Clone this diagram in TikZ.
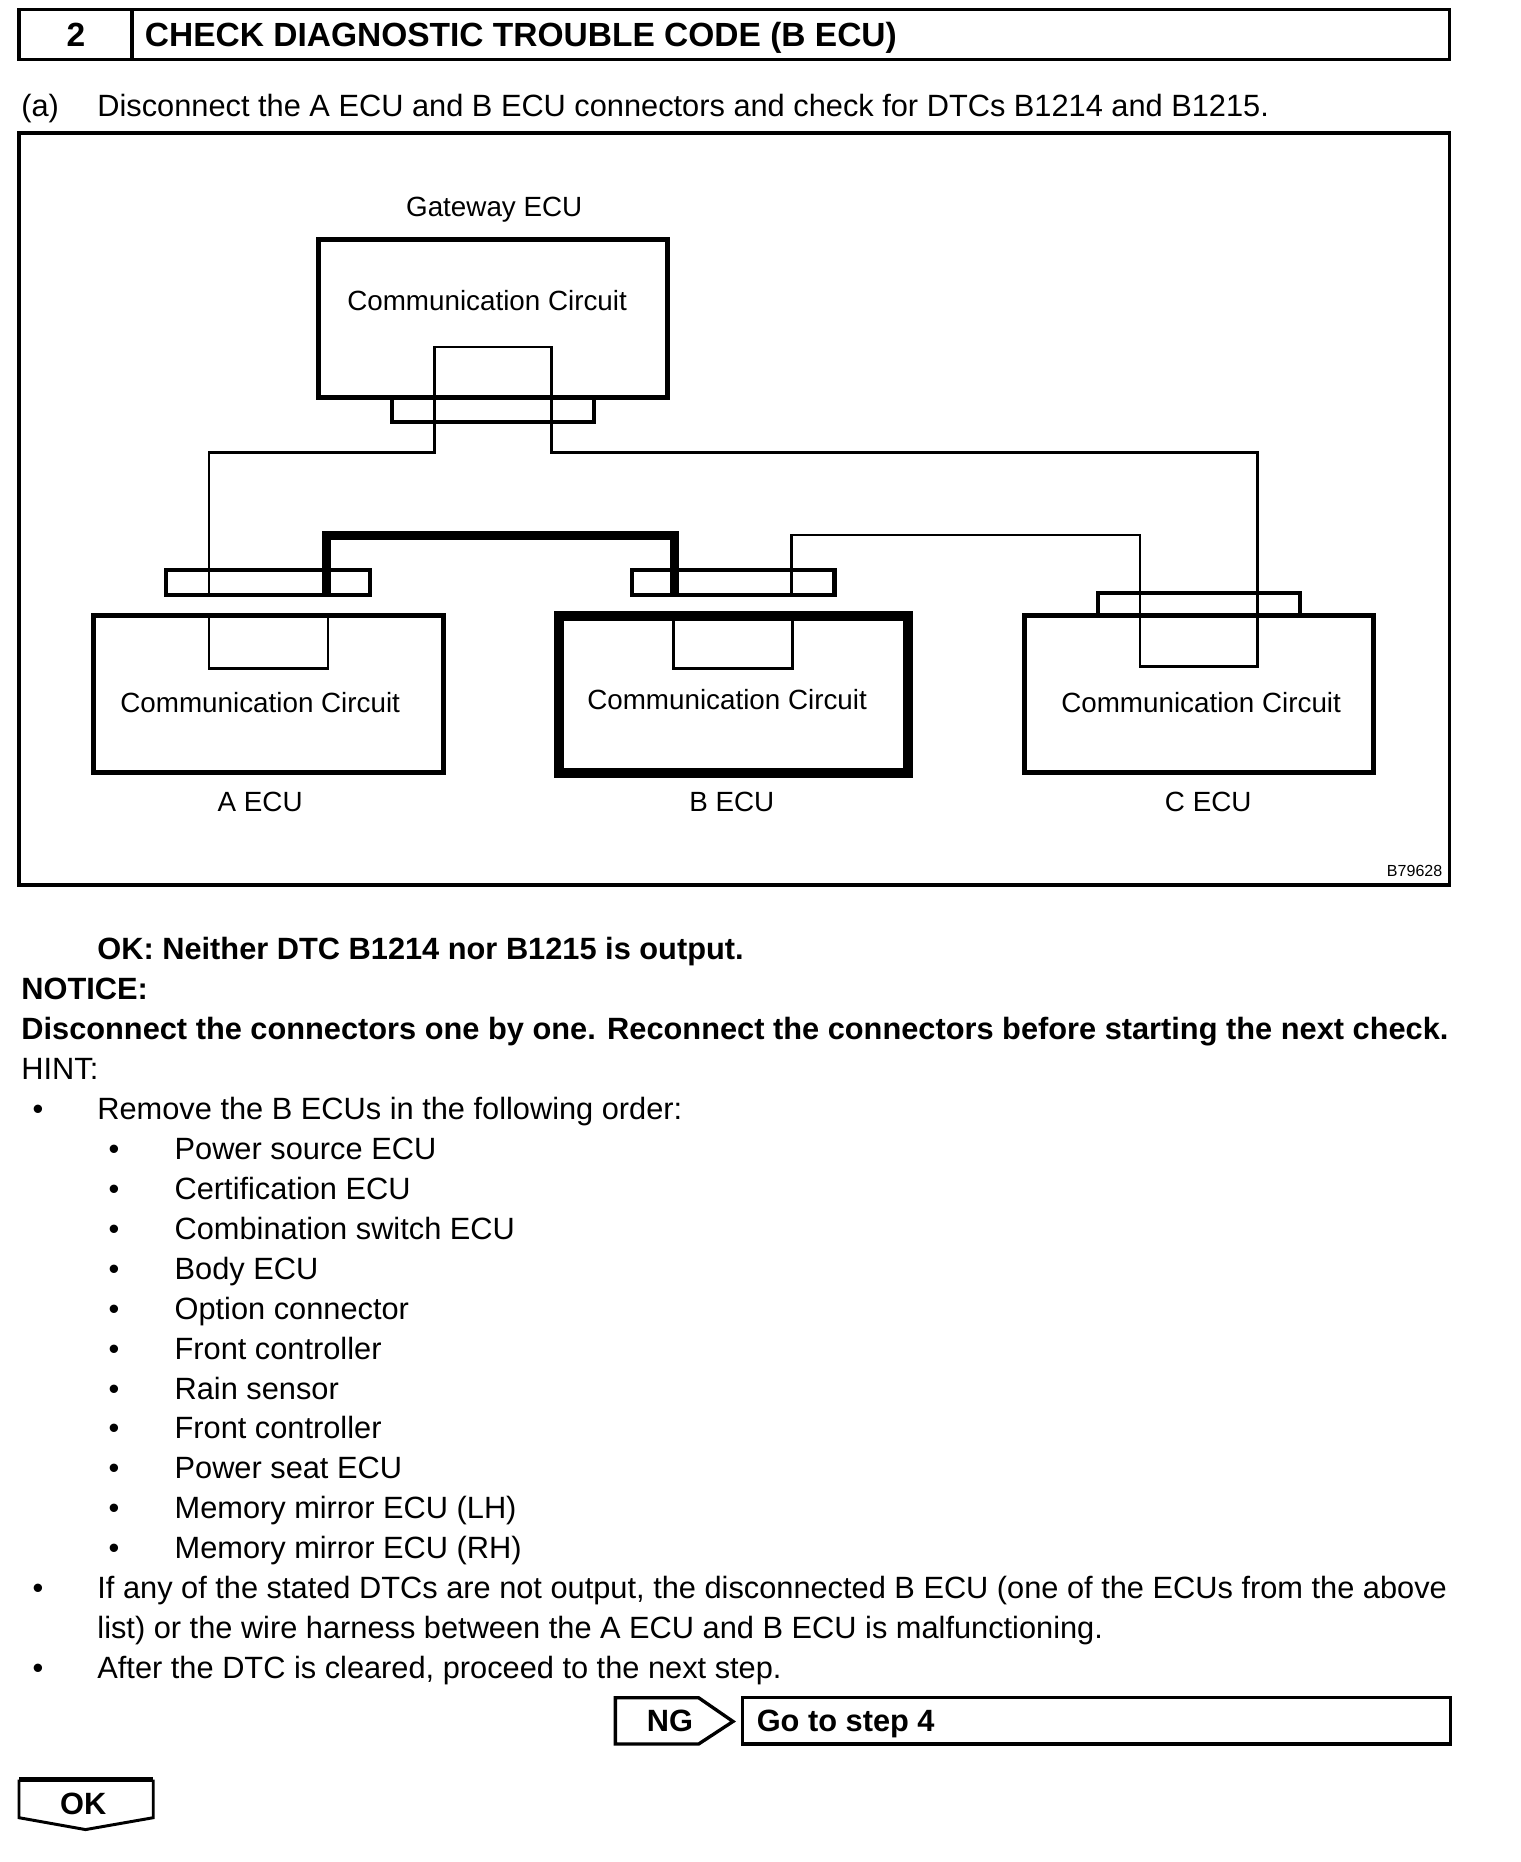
\documentclass[tikz,border=0pt]{standalone}
\usepackage{fontspec}
\setmainfont{Liberation Sans}
\begin{document}
\begin{tikzpicture}[x=1pt,y=-1pt,
  every node/.style={inner sep=0pt,outer sep=0pt},
  body/.style={font=\fontsize{25.9}{31}\selectfont},
  bodyb/.style={font=\fontsize{25.9}{31}\selectfont\bfseries},
  titlef/.style={font=\fontsize{28.2}{32}\selectfont\bfseries},
  diag/.style={font=\fontsize{23.4}{28}\selectfont},
  tiny/.style={font=\fontsize{13.5}{16}\selectfont},
  ecubox/.style={draw,line width=4.2pt,minimum width=294pt,minimum height=132pt},
  bbox/.style={draw,line width=8.5pt,minimum width=294pt,minimum height=132.6pt},
  cbar/.style={draw,line width=3.7pt},
  wire/.style={line width=2.3pt,line join=miter},
  bus/.style={line width=7.5pt,line join=miter},
  frame/.style={draw,line width=3pt},
  blt/.style={font=\fontsize{25.9}{31}\selectfont,anchor=base}
]
\useasboundingbox (0,0) rectangle (1279.5,1567.3);

% header
\node[frame,minimum width=1204pt,minimum height=42pt,anchor=north west] (hdr) at (16,8) {};
\coordinate (dv1) at (111,8);
\coordinate (dv2) at (111,50);
\draw[line width=3pt] (dv1) -- (dv2);
\node[titlef,anchor=base] (num) at (64,39) {2};
\node[titlef,anchor=base west] (title) at (122,39) {CHECK DIAGNOSTIC TROUBLE CODE (B ECU)};

\node[body,anchor=base west] (alab) at (18,98) {(a)};
\node[body,anchor=base west] (atext) at (82,98) {Disconnect the A ECU and B ECU connectors and check for DTCs B1214 and B1215.};

% diagram frame
\node[frame,minimum width=1204pt,minimum height=633pt,anchor=north west] (fr) at (16,112) {};

% gateway
\node[diag,anchor=base] (gwl) at (416,182.4) {Gateway ECU};
\node[ecubox,minimum height=133pt] (gw) at (415,268.5) {};
\node[diag,anchor=base] (gwt) at (410,261.4) {Communication Circuit};
\node[cbar,minimum width=170pt,minimum height=20pt] (gwbar) at (415,345) {};

% ECU boxes
\node[ecubox] (aecu) at (226,584.4) {};
\node[bbox] (becu) at (617.5,584.7) {};
\node[ecubox] (cecu) at (1009.5,584.4) {};

\node[diag,anchor=base] (at) at (219,599.4) {Communication Circuit};
\node[diag,anchor=base] (bt) at (612,597.4) {Communication Circuit};
\node[diag,anchor=base] (ct) at (1011,599.4) {Communication Circuit};
\node[diag,anchor=base] (al) at (219,683.4) {A ECU};
\node[diag,anchor=base] (bl) at (616,683.4) {B ECU};
\node[diag,anchor=base] (cl) at (1017,683.4) {C ECU};
\node[tiny,anchor=base east] (code) at (1214,738) {B79628};

% connector bars
\node[cbar,minimum width=172pt,minimum height=21pt] (abar) at (225.6,490.5) {};
\node[cbar,minimum width=170.5pt,minimum height=21pt] (bbar) at (617.2,490.5) {};
\node[cbar,minimum width=170pt,minimum height=19.4pt] (cbar) at (1009,508.7) {};

% inner squares of A and B
\coordinate (ai1) at (176,518.4);
\coordinate (ai2) at (176,562.6);
\coordinate (ai3) at (276,562.6);
\coordinate (ai4) at (276,518.4);
\draw[wire] (ai1) -- (ai2) -- (ai3) -- (ai4);
\coordinate (bi1) at (567,518.4);
\coordinate (bi2) at (567,562.6);
\coordinate (bi3) at (667,562.6);
\coordinate (bi4) at (667,518.4);
\draw[wire] (bi1) -- (bi2) -- (bi3) -- (bi4);

% thin wire loop
\coordinate (w0) at (176,501);
\coordinate (w1) at (176,381);
\coordinate (w2) at (366,381);
\coordinate (w3) at (366,292);
\coordinate (w4) at (464,292);
\coordinate (w5) at (464,381);
\coordinate (w6) at (1058.7,381);
\coordinate (w7) at (1058.7,561.2);
\coordinate (w8) at (959.6,561.2);
\coordinate (w9) at (959.6,450.3);
\coordinate (w10) at (666.4,450.3);
\coordinate (w11) at (666.4,501);
\draw[wire] (w0) -- (w1) -- (w2) -- (w3) -- (w4) -- (w5) -- (w6) -- (w7) -- (w8) -- (w9) -- (w10) -- (w11);

% thick bus between A and B
\coordinate (t0) at (275,501);
\coordinate (t1) at (275,451);
\coordinate (t2) at (567.4,451);
\coordinate (t3) at (567.4,501);
\draw[bus] (t0) -- (t1) -- (t2) -- (t3);

% text below
\node[bodyb,anchor=base west] (ok1) at (82,808) {OK: Neither DTC B1214 nor B1215 is output.};
\node[bodyb,anchor=base west] (notice) at (18,841.6) {NOTICE:};
\node[bodyb,anchor=base west] (disc) at (18,875.2) {Disconnect the connectors one by one. Reconnect the connectors before starting the next check.};
\node[body,anchor=base west] (hint) at (18,908.8) {HINT:};
\node[blt] (b0) at (32,942.4) {•};
\node[body,anchor=base west] (rem) at (82,942.4) {Remove the B ECUs in the following order:};
\foreach \t [count=\i from 0] in {Power source ECU,Certification ECU,Combination switch ECU,Body ECU,Option connector,Front controller,Rain sensor,Front controller,Power seat ECU,Memory mirror ECU (LH),Memory mirror ECU (RH)}{
  \node[blt] (sb\i) at (96,976+33.6*\i) {•};
  \node[body,anchor=base west] (it\i) at (147,976+33.6*\i) {\t};
}
\node[blt] (b1) at (32,1345.4) {•};
\node[body,anchor=base west] (if1) at (82,1345.4) {If any of the stated DTCs are not output, the disconnected B ECU (one of the ECUs from the above};
\node[body,anchor=base west] (if2) at (82,1379) {list) or the wire harness between the A ECU and B ECU is malfunctioning.};
\node[blt] (b2) at (32,1412.6) {•};
\node[body,anchor=base west] (aft) at (82,1412.6) {After the DTC is cleared, proceed to the next step.};

% NG / Go to step
\coordinate (n1) at (518,1429);
\coordinate (n2) at (588,1429);
\coordinate (n3) at (617,1449);
\coordinate (n4) at (588,1468);
\coordinate (n5) at (518,1468);
\draw[line width=2.8pt,line join=miter] (n1) -- (n2) -- (n3) -- (n4) -- (n5) -- cycle;
\node[bodyb,anchor=base] (ng) at (564,1457.5) {NG};
\node[draw,line width=3pt,minimum width=596pt,minimum height=39pt,anchor=north west] (go) at (625,1429) {};
\node[bodyb,anchor=base west] (gotext) at (637,1457.5) {Go to step 4};

% OK arrow
\coordinate (o1) at (16,1498);
\coordinate (o2) at (16,1530);
\coordinate (o3) at (72,1540);
\coordinate (o4) at (129,1530);
\coordinate (o5) at (129,1498);
\draw[line width=2.5pt,line join=miter] (o1) -- (o2) -- (o3) -- (o4) -- (o5);
\draw[line width=4pt] (o1) -- (o5);
\node[bodyb,anchor=base] (oktxt) at (70,1527) {OK};
\end{tikzpicture}
\end{document}
